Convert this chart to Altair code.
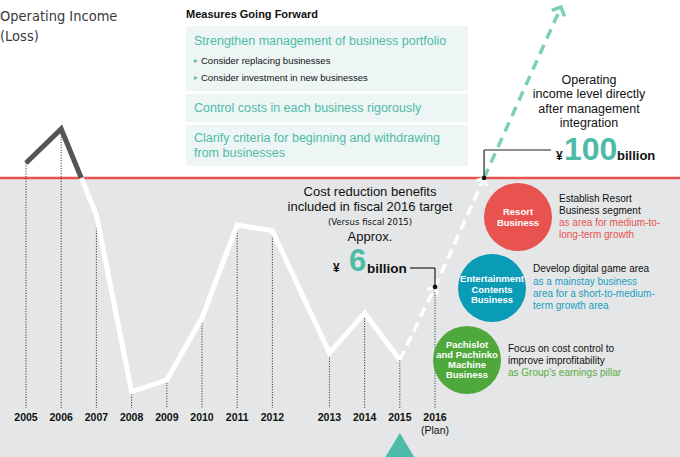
import altair as alt
import pandas as pd

# ---------------- data ----------------
YEARS = [2005, 2006, 2007, 2008, 2009, 2010, 2011, 2012, 2013, 2014, 2015, 2016]
YEAR_LABELS = ["2005", "2006", "2007", "2008", "2009", "2010", "2011", "2012",
               "2013", "2014", "2015", "2016"]
# schematic operating income level (¥ billion, red line = 100 level)
INCOME = [106.7, 121.8, 83.6, 5.0, 10.2, 37.8, 79.1, 76.6, 22.2, 40.0, 19.1, 51.6]
PLAN_YEAR = 2016
INTEGRATION_LEVEL = 100          # operating income level directly after integration
ARROW_TIP_YEAR = 2019.58         # growth arrow direction (year, level)
ARROW_TIP_LEVEL = 176.0

W, H = 680, 457
SANS = "Liberation Sans, Arial, Helvetica, sans-serif"
COND = "DejaVu Sans Condensed, DejaVu Sans, sans-serif"
TEAL = "#4dbba7"
RED = "#e8534f"
BLUE = "#0a9bb6"
GREEN = "#4fa83b"
BG = "#e4e6e7"


def pos(year):
    # year axis has a small extra gap between 2012 and 2013
    return (year - 2005) + (0.62 if year >= 2012.5 else 0.0)


X = alt.Scale(domain=[-26 / 35.2, (W - 26) / 35.2], nice=False, zero=False)
Y = alt.Scale(domain=[100 - 279 / 2.25, 100 + 178 / 2.25], nice=False, zero=False)

hist = pd.DataFrame({"year": YEARS, "label": YEAR_LABELS, "value": INCOME})
hist["x"] = hist["year"].map(pos)

# crossing of the 100 level between 2006 and 2007
v6, v7 = INCOME[1], INCOME[2]
t = (v6 - INTEGRATION_LEVEL) / (v6 - v7)
cross1 = pos(2006) + t * (pos(2007) - pos(2006))

i15 = YEARS.index(2015)
i16 = YEARS.index(PLAN_YEAR)
vp = INCOME[i16]
t2 = (INTEGRATION_LEVEL - vp) / (ARROW_TIP_LEVEL - vp)
cross2 = pos(PLAN_YEAR) + t2 * (pos(ARROW_TIP_YEAR) - pos(PLAN_YEAR))

gray_seg = pd.DataFrame({"x": [pos(2005), pos(2006), cross1],
                         "value": [INCOME[0], INCOME[1], INTEGRATION_LEVEL]})
white_seg = pd.DataFrame({"x": [cross1] + list(hist["x"][2:i15 + 1]),
                          "value": [INTEGRATION_LEVEL] + INCOME[2:i15 + 1]})
plan_seg = pd.DataFrame({"x": [pos(2015), pos(PLAN_YEAR), cross2],
                         "value": [INCOME[i15], vp, INTEGRATION_LEVEL]})
teal_seg = pd.DataFrame({"x": [cross2, pos(ARROW_TIP_YEAR)],
                         "value": [INTEGRATION_LEVEL, ARROW_TIP_LEVEL]})
chev_white = pd.DataFrame({"x": [pos(PLAN_YEAR), cross2], "value": [vp, INTEGRATION_LEVEL]})
chev_teal = pd.DataFrame({"x": [pos(ARROW_TIP_YEAR)], "value": [ARROW_TIP_LEVEL]})
dots = pd.DataFrame({"x": [pos(PLAN_YEAR), cross2], "value": [vp, INTEGRATION_LEVEL]})
one = pd.DataFrame({"k": [0]})

xe = lambda: alt.X("x:Q", scale=X, axis=None)
ye = lambda: alt.Y("value:Q", scale=Y, axis=None)


def txt(lines, x, y, size=12, color="#222", weight="normal", align="left",
        font=SANS, lh=None, baseline="middle"):
    # for multi-line text, y is the first line
    kw = dict(text=lines, fontSize=size, color=color, fontWeight=weight,
              align=align, font=font, baseline=baseline)
    if lh is not None:
        kw["lineHeight"] = lh
    return alt.Chart(one).mark_text(**kw).encode(x=alt.value(x), y=alt.value(y))


def box(x1, y1, x2, y2, color):
    return alt.Chart(one).mark_rect(color=color).encode(
        x=alt.value(x1), x2=alt.value(x2), y=alt.value(y1), y2=alt.value(y2))


layers = []

# grey area below the integration level + red level line
layers.append(alt.Chart(one).mark_rect(color=BG).encode(
    x=alt.value(0), x2=alt.value(W),
    y=alt.Y("v:Q", scale=Y, axis=None), y2=alt.value(H)
).transform_calculate(v=str(INTEGRATION_LEVEL)))
layers.append(alt.Chart(one).mark_rule(color=RED, strokeWidth=2.5).encode(
    x=alt.value(0), x2=alt.value(W), y=alt.Y("v:Q", scale=Y, axis=None)
).transform_calculate(v=str(INTEGRATION_LEVEL)))

# measures boxes
layers += [box(186, 26, 468, 91, "#eef6f5"), box(186, 94, 468, 122, "#eef6f5"),
           box(186, 125, 468, 166, "#eef6f5")]

# dotted drop lines
layers.append(alt.Chart(hist).mark_rule(color="#222", strokeWidth=1, strokeDash=[1, 1.6]).encode(
    x=xe(), y=ye(), y2=alt.value(408)))

# lines
layers.append(alt.Chart(gray_seg).mark_line(color="#555555", strokeWidth=5, strokeJoin="miter").encode(
    x=xe(), y=ye()))
layers.append(alt.Chart(white_seg).mark_line(color="white", strokeWidth=5, strokeJoin="miter").encode(
    x=xe(), y=ye()))
layers.append(alt.Chart(plan_seg).mark_line(color="white", strokeWidth=3.5, strokeDash=[10, 6]).encode(
    x=xe(), y=ye()))
layers.append(alt.Chart(teal_seg).mark_line(color="#7ccfbd", strokeWidth=3.5, strokeDash=[10, 7]).encode(
    x=xe(), y=ye()))
CHEV = "M-1,1L0,0L1,1"
layers.append(alt.Chart(chev_white).mark_point(shape=CHEV, filled=False, color="white",
                                               strokeWidth=3, size=130, angle=25, opacity=1).encode(
    x=xe(), y=ye()))
layers.append(alt.Chart(chev_teal).mark_point(shape=CHEV, filled=False, color="#7ccfbd",
                                              strokeWidth=3.5, size=200, angle=25, opacity=1).encode(
    x=xe(), y=ye()))

# connectors
layers.append(alt.Chart(dots.iloc[[1]]).mark_rule(color="#222", strokeWidth=1.2).encode(
    x=xe(), y=ye(), y2=alt.value(150)))
layers.append(alt.Chart(dots.iloc[[1]]).mark_rule(color="#222", strokeWidth=1.2).encode(
    x=xe(), x2=alt.value(551), y=alt.value(150)))
layers.append(alt.Chart(dots.iloc[[0]]).mark_rule(color="#222", strokeWidth=1.2).encode(
    x=xe(), y=ye(), y2=alt.value(268)))
layers.append(alt.Chart(dots.iloc[[0]]).mark_rule(color="#222", strokeWidth=1.2).encode(
    x=xe(), x2=alt.value(410), y=alt.value(268)))
layers.append(alt.Chart(dots).mark_circle(color="#111", size=22, opacity=1).encode(x=xe(), y=ye()))

# year labels
layers.append(alt.Chart(hist).mark_text(font=SANS, fontWeight="bold", fontSize=10.5,
                                        color="#111", baseline="middle").encode(
    x=xe(), y=alt.value(418), text="label:N"))
layers.append(alt.Chart(hist[hist["year"] == PLAN_YEAR]).mark_text(
    text="(Plan)", font=SANS, fontSize=10.5, color="#111", baseline="middle").encode(
    x=xe(), y=alt.value(431)))

# teal triangle under 2015
layers.append(alt.Chart(hist[hist["year"] == 2015]).mark_point(
    shape="M0,-1L1.2,1L-1.2,1Z", filled=True, color=TEAL, size=784, opacity=1).encode(
    x=xe(), y=alt.value(447)))

# titles / measures
layers.append(txt(["Operating Income", "(Loss)"], 0, 17, size=14.5, color="#3a3a3a",
                  font=COND, lh=20))
layers.append(txt("Measures Going Forward", 186, 15, size=11, weight="bold", color="#111"))
layers.append(txt("Strengthen management of business portfolio", 194, 41, size=12.5, color=TEAL))
layers.append(alt.Chart(pd.DataFrame({"yy": [61, 78]})).mark_point(
    shape="triangle-right", filled=True, color=TEAL, size=18, opacity=1).encode(
    x=alt.value(196), y=alt.Y("yy:Q", scale=None)))
layers.append(txt("Consider replacing businesses", 201, 61, size=9.5, color="#111"))
layers.append(txt("Consider investment in new businesses", 201, 78, size=9.5, color="#111"))
layers.append(txt("Control costs in each business rigorously", 194, 108, size=12.5, color=TEAL))
layers.append(txt(["Clarify criteria for beginning and withdrawing", "from businesses"],
                  194, 138, size=12.5, color=TEAL, lh=15))

# right annotation
layers.append(txt(["Operating", "income level directly", "after management", "integration"],
                  589, 80, size=12.5, color="#111", align="center", lh=14.3))
layers.append(txt("¥", 556, 160, size=12, weight="bold", color="#111", baseline="alphabetic"))
layers.append(txt("100", 564, 160, size=32, weight="bold", color=TEAL, baseline="alphabetic"))
layers.append(txt("billion", 617, 160, size=13, weight="bold", color="#111", baseline="alphabetic"))

# cost reduction annotation
layers.append(txt(["Cost reduction benefits", "included in fiscal 2016 target"], 370, 192,
                  size=13, color="#111", align="center", lh=14.5))
layers.append(txt("(Versus fiscal 2015)", 370, 222, size=9.5, color="#111", align="center", font=COND))
layers.append(txt("Approx.", 370, 237, size=13, color="#111", align="center"))
layers.append(txt("¥", 333, 272, size=12, weight="bold", color="#111", baseline="alphabetic"))
layers.append(txt("6", 349, 271, size=31, weight="bold", color=TEAL, baseline="alphabetic"))
layers.append(txt("billion", 367, 273, size=13.5, weight="bold", color="#111", baseline="alphabetic"))

# business circles
circles = [(518, 217, RED), (492, 288, BLUE), (467, 360, GREEN)]
for cx, cy, col in circles:
    layers.append(alt.Chart(one).mark_circle(color=col, size=4624, opacity=1).encode(
        x=alt.value(cx), y=alt.value(cy)))
layers.append(txt(["Resort", "Business"], 518, 212, size=9.5, weight="bold", color="white",
                  align="center", lh=10.5))
layers.append(txt(["Entertainment", "Contents", "Business"], 492, 279, size=9.5, weight="bold",
                  color="white", align="center", lh=10.5))
layers.append(txt(["Pachislot", "and Pachinko", "Machine", "Business"], 467, 345, size=9.5,
                  weight="bold", color="white", align="center", lh=10))

layers.append(txt(["Establish Resort", "Business segment"], 559, 198.5, size=10, color="#111", lh=12.2))
layers.append(txt(["as area for medium-to-", "long-term growth"], 559, 223, size=10, color=RED, lh=12))
layers.append(txt("Develop digital game area", 533, 269, size=10, color="#111"))
layers.append(txt(["as a mainstay business", "area for a short-to-medium-", "term growth area"],
                  533, 282, size=10, color="#1a9fc0", lh=12))
layers.append(txt(["Focus on cost control to", "improve improfitability"], 508, 348.5, size=10,
                  color="#111", lh=12.3))
layers.append(txt("as Group's earnings pillar", 508, 373, size=10, color="#5aac45"))

chart = alt.layer(*layers).properties(
    width=W, height=H, padding=0, autosize=alt.AutoSizeParams(type="none"),
    background="white"
).configure_view(stroke=None)

chart.save("out.html", embed_options={"renderer": "svg", "actions": False})
